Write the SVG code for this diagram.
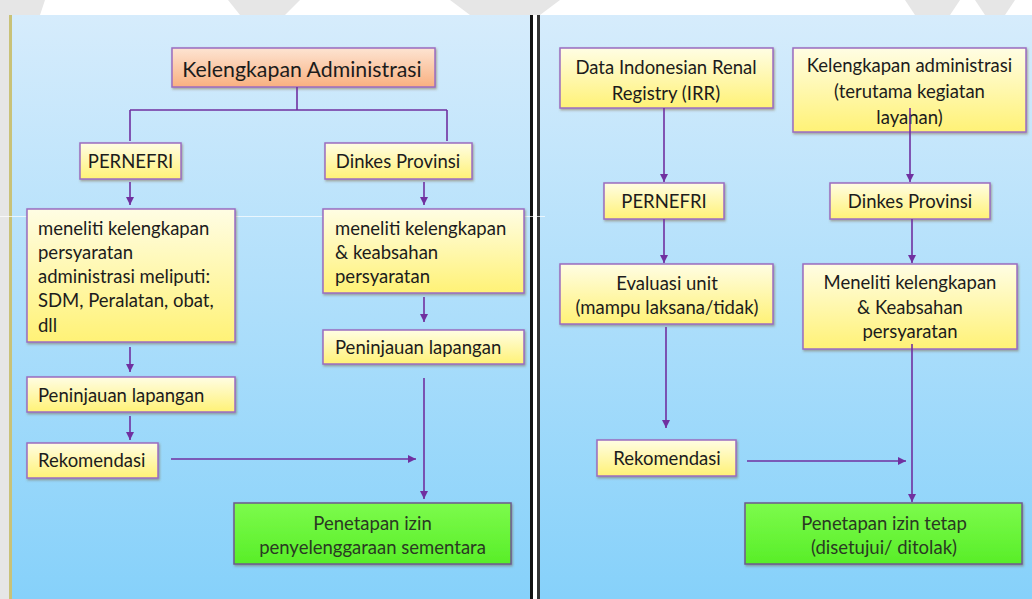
<svg xmlns="http://www.w3.org/2000/svg" width="1032" height="599" viewBox="0 0 1032 599">
<style>
.box{stroke:#9b6cc0;stroke-width:1.5;filter:url(#sh)}
.y{fill:url(#gy)}
.o{fill:url(#go)}
.g{fill:url(#gg);stroke:#6e5a8e}
text{font-family:Lato,"Liberation Sans",sans-serif;font-size:18.5px;fill:#1c1c1c}
.c{text-anchor:middle}
.gt{fill:#2a3a22}
.con{stroke:#7030a0;stroke-width:1.6;fill:none}
.arr{marker-end:url(#ah)}
</style>
<defs>
<linearGradient id="bg" x1="0" y1="0" x2="0" y2="1"><stop offset="0" stop-color="#d6ecfc"/><stop offset="1" stop-color="#86d1fa"/></linearGradient>
<linearGradient id="gy" x1="0" y1="0" x2="0" y2="1"><stop offset="0" stop-color="#fffde4"/><stop offset="1" stop-color="#fff276"/></linearGradient>
<linearGradient id="go" x1="0" y1="0" x2="0" y2="1"><stop offset="0" stop-color="#fde4d2"/><stop offset="1" stop-color="#f9b080"/></linearGradient>
<linearGradient id="gg" x1="0" y1="0" x2="0" y2="1"><stop offset="0" stop-color="#7dfb4c"/><stop offset="1" stop-color="#58ee28"/></linearGradient>
<filter id="sh" x="-5%" y="-5%" width="110%" height="120%"><feDropShadow dx="1" dy="1.5" stdDeviation="0.8" flood-color="#7a5a30" flood-opacity="0.5"/></filter>
<marker id="ah" markerUnits="userSpaceOnUse" markerWidth="9" markerHeight="9" refX="8" refY="4" orient="auto"><path d="M0,0 L8,4 L0,8 z" fill="#7030a0"/></marker>
</defs>
<rect width="1032" height="599" fill="#ffffff"/>
<g fill="#e6e6e6">
<polygon points="0,0 45,0 40,15 9,15 9,599 0,599"/>
<polygon points="228,0 300,0 285,15 240,15"/>
<polygon points="450,0 560,0 540,15 470,15"/>
<polygon points="905,0 960,0 950,15 915,15"/>
<polygon points="975,0 1015,0 1005,15 985,15"/>
</g>
<rect x="9" y="15" width="521" height="584" fill="url(#bg)"/>
<rect x="9" y="15" width="3" height="584" fill="#c9c278"/>
<rect x="540" y="15" width="492" height="584" fill="url(#bg)"/>
<rect x="530" y="15" width="3" height="584" fill="#111"/>
<rect x="533" y="15" width="4" height="584" fill="#ffffff"/>
<rect x="537" y="15" width="3" height="584" fill="#333"/>
<line x1="0" y1="216.5" x2="545" y2="216.5" stroke="#ffffff" stroke-opacity="0.7" stroke-width="1"/>

<g id="l-title"><rect class="box o" x="172" y="48" width="263" height="39"/><text class="c" x="302" y="76.5" style="font-size:21.3px">Kelengkapan Administrasi</text></g>
<g id="l-pernefri"><rect class="box y" x="80" y="143" width="101" height="36"/><text class="c" x="130.5" y="168">PERNEFRI</text></g>
<g id="l-dinkes"><rect class="box y" x="325" y="143" width="147" height="36"/><text class="c" x="398" y="168">Dinkes Provinsi</text></g>
<g id="l-meneliti1"><rect class="box y" x="27" y="209" width="208" height="133"/><text x="38" y="234.5">meneliti kelengkapan</text><text x="38" y="258.5">persyaratan</text><text x="38" y="283">administrasi meliputi:</text><text x="38" y="307">SDM, Peralatan, obat,</text><text x="38" y="331.5">dll</text></g>
<g id="l-meneliti2"><rect class="box y" x="323" y="209" width="201" height="84"/><text x="335" y="234.5">meneliti kelengkapan</text><text x="335" y="258.5">&amp; keabsahan</text><text x="335" y="282.5">persyaratan</text></g>
<g id="l-peninjauan2"><rect class="box y" x="323" y="330" width="201" height="34"/><text x="335" y="353.5">Peninjauan lapangan</text></g>
<g id="l-peninjauan1"><rect class="box y" x="27" y="377" width="208" height="35"/><text x="38" y="401.5">Peninjauan lapangan</text></g>
<g id="l-rekomendasi"><rect class="box y" x="27" y="443" width="131" height="35"/><text x="38" y="466.5">Rekomendasi</text></g>
<g id="l-penetapan"><rect class="box g" x="234" y="503" width="277" height="61"/><text class="c gt" x="372.5" y="529.5">Penetapan izin</text><text class="c gt" x="372.5" y="553.5">penyelenggaraan sementara</text></g>

<g id="r-data"><rect class="box y" x="560" y="48" width="213" height="60"/><text class="c" x="666" y="73.5">Data Indonesian Renal</text><text class="c" x="666" y="99.5">Registry (IRR)</text></g>
<g id="r-kelengkapan"><rect class="box y" x="793" y="48" width="233" height="84"/><text class="c" x="909.5" y="71.5">Kelengkapan administrasi</text><text class="c" x="909.5" y="97.5">(terutama kegiatan</text><text class="c" x="909.5" y="123.5">layanan)</text></g>
<g id="r-pernefri"><rect class="box y" x="604" y="183" width="120" height="36"/><text class="c" x="664" y="207.5">PERNEFRI</text></g>
<g id="r-dinkes"><rect class="box y" x="830" y="183" width="160" height="36"/><text class="c" x="910" y="207.5">Dinkes Provinsi</text></g>
<g id="r-evaluasi"><rect class="box y" x="560" y="264" width="213" height="60"/><text class="c" x="667" y="289.5">Evaluasi unit</text><text class="c" x="667" y="313.5">(mampu laksana/tidak)</text></g>
<g id="r-meneliti"><rect class="box y" x="803" y="264" width="214" height="85"/><text class="c" x="910" y="288.5">Meneliti kelengkapan</text><text class="c" x="910" y="313.5">&amp; Keabsahan</text><text class="c" x="910" y="337.5">persyaratan</text></g>
<g id="r-rekomendasi"><rect class="box y" x="597" y="440" width="139" height="36"/><text class="c" x="667" y="464.5">Rekomendasi</text></g>
<g id="r-penetapan"><rect class="box g" x="745" y="503" width="277" height="61"/><text class="c gt" x="884" y="529.5">Penetapan izin tetap</text><text class="c gt" x="884" y="553.5">(disetujui/ ditolak)</text></g>

<g id="connectors">
<path class="con" d="M297,87 V110 M130,110 H447 M130,110 V141 M447,110 V141"/>
<path class="con arr" d="M130,182 V205"/>
<path class="con arr" d="M424,182 V205"/>
<path class="con arr" d="M130,347 V372"/>
<path class="con arr" d="M424,297 V322"/>
<path class="con arr" d="M130,416 V440"/>
<path class="con arr" d="M171,459 H416"/>
<path class="con arr" d="M424,378 V499"/>
<path class="con arr" d="M664,108 V182"/>
<path class="con arr" d="M910,108 V182"/>
<path class="con arr" d="M664,219 V263"/>
<path class="con arr" d="M912,219 V263"/>
<path class="con arr" d="M666,327 V428"/>
<path class="con arr" d="M912,344 V502"/>
<path class="con arr" d="M747,461 H906"/>
</g>
</svg>
